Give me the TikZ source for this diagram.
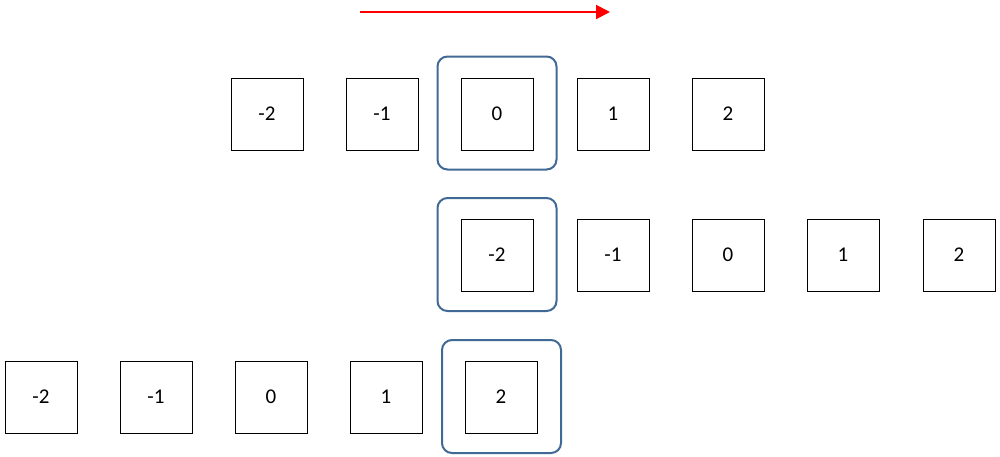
\documentclass[tikz,border=0pt]{standalone}
\usepackage{fontspec}
\setmainfont{Carlito}
\usetikzlibrary{arrows.meta}
\definecolor{hl}{RGB}{65,105,150}
\begin{document}
\begin{tikzpicture}[x=1pt,y=-1pt,
 cell/.style={draw=black,line width=0.6pt,minimum width=72pt,minimum height=72pt,inner sep=0pt,font=\fontsize{21}{21}\selectfont},
 hlbox/.style={draw=hl,line width=2pt,rounded corners=10pt,minimum width=119pt,minimum height=113pt}]
\useasboundingbox (0,0) rectangle (1000,456);
\coordinate (as) at (360,12); \coordinate (ae) at (610,12);
\draw[red,line width=2pt,-{Triangle[length=14pt,width=14pt]}] (as) -- (ae);
\foreach \x/\t [count=\i] in {267/-2,382/-1,497/0,613/1,728/2}
  \node[cell] (a\i) at (\x,114) {\t};
\foreach \x/\t [count=\i] in {497/-2,613/-1,728/0,843/1,959/2}
  \node[cell] (b\i) at (\x,255) {\t};
\foreach \x/\t [count=\i] in {41/-2,156/-1,271/0,386/1,501/2}
  \node[cell] (c\i) at (\x,397) {\t};
\node[hlbox] (h1) at (497,113) {};
\node[hlbox] (h2) at (497,254.5) {};
\node[hlbox] (h3) at (501.5,396.5) {};
\end{tikzpicture}
\end{document}
